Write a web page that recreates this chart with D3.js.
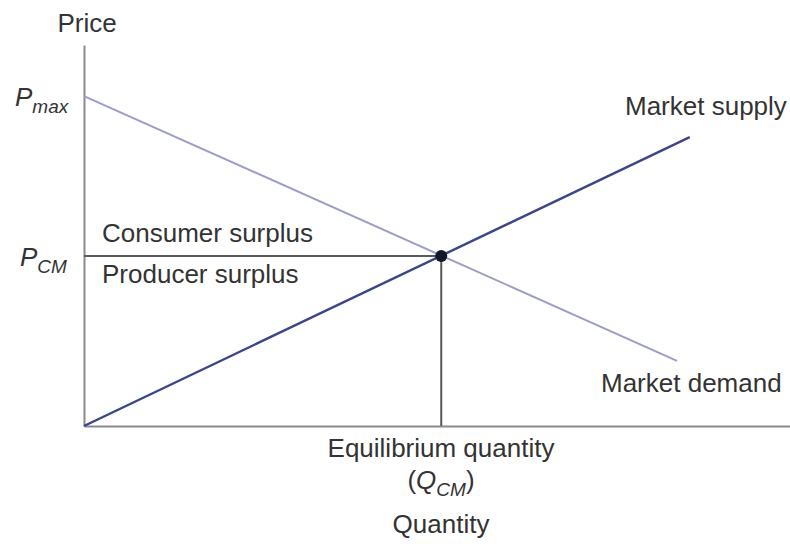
<!DOCTYPE html>
<html>
<head>
<meta charset="utf-8">
<script src="https://cdn.jsdelivr.net/npm/d3@7"></script>
<style>
  body { margin: 0; background: #fff; }
  text { font-family: "Liberation Sans", Arial, sans-serif; fill: #333; }
</style>
</head>
<body>
<svg id="canvas"></svg>
<script>
// chart values (price and quantity in arbitrary units)
let quantityDomain = [0, 10];
let priceDomain = [0, 10];

let demandQ = [0, 8.40];
let demandP = [8.66, 1.71];

let supplyQ = [0, 8.58];
let supplyP = [0, 7.58];

let eqQ = 5.06;
let eqP = 4.46;

let width = 790;
let height = 544;

let canvas = d3.select("#canvas")
canvas.attr("width", width)
canvas.attr("height", height)

let xScale = d3.scaleLinear()
               .domain(quantityDomain)
               .range([84, 790])

let yScale = d3.scaleLinear()
               .domain(priceDomain)
               .range([426, 45])

let line = d3.line()
             .x((d)=> xScale(d[0]))
             .y((d)=> yScale(d[1]))

// axes without ticks
let xAxis = d3.axisBottom(xScale).tickValues([]).tickSizeOuter(0)
let yAxis = d3.axisLeft(yScale).tickValues([]).tickSizeOuter(0)

canvas.append("g")
      .attr("transform", "translate(0," + yScale(0) + ")")
      .call(xAxis)
      .select(".domain").attr("stroke", "#8a8a8e").attr("stroke-width", 2)

canvas.append("g")
      .attr("transform", "translate(" + xScale(0) + ",0)")
      .call(yAxis)
      .select(".domain").attr("stroke", "#8a8a8e").attr("stroke-width", 2)

// equilibrium guide lines
canvas.append("path")
      .attr("d", line([[0, eqP], [eqQ, eqP]]))
      .attr("stroke", "#5a5a5e")
      .attr("stroke-width", 2)
      .attr("fill", "none")

canvas.append("path")
      .attr("d", line([[eqQ, eqP], [eqQ, 0]]))
      .attr("stroke", "#5a5a5e")
      .attr("stroke-width", 2)
      .attr("fill", "none")

// demand
canvas.append("path")
      .attr("d", line(d3.zip(demandQ, demandP)))
      .attr("stroke", "#9c9ec8")
      .attr("stroke-width", 2)
      .attr("fill", "none")

// supply
canvas.append("path")
      .attr("d", line(d3.zip(supplyQ, supplyP)))
      .attr("stroke", "#3b4688")
      .attr("stroke-width", 2.4)
      .attr("fill", "none")

canvas.append("circle")
      .attr("cx", xScale(eqQ))
      .attr("cy", yScale(eqP))
      .attr("r", 6)
      .attr("fill", "#15162a")

let label = (x, y, txt, anchor)=>{
    return canvas.append("text")
                 .attr("x", x)
                 .attr("y", y)
                 .attr("font-size", 26)
                 .attr("text-anchor", anchor || "start")
                 .text(txt)
}

label(87, 32, "Price", "middle")
label(102, 242, "Consumer surplus")
label(102, 283, "Producer surplus")
label(625, 115, "Market supply")
label(601, 392, "Market demand")
label(441, 457, "Equilibrium quantity", "middle")
label(441, 533, "Quantity", "middle")

// P labels with subscripts
let subLabel = (x, y, main, sub, anchor, before, after)=>{
    let t = canvas.append("text")
                  .attr("x", x)
                  .attr("y", y)
                  .attr("font-size", 26)
                  .attr("text-anchor", anchor || "start")
    if(before) t.append("tspan").text(before)
    t.append("tspan").attr("font-style", "italic").text(main)
    t.append("tspan").attr("font-style", "italic").attr("font-size", 19).attr("dy", 7).text(sub)
    if(after) t.append("tspan").attr("dy", -7).text(after)
}

subLabel(15, 106, "P", "max")
subLabel(20, 266, "P", "CM")
subLabel(441, 489, "Q", "CM", "middle", "(", ")")
</script>
</body>
</html>
